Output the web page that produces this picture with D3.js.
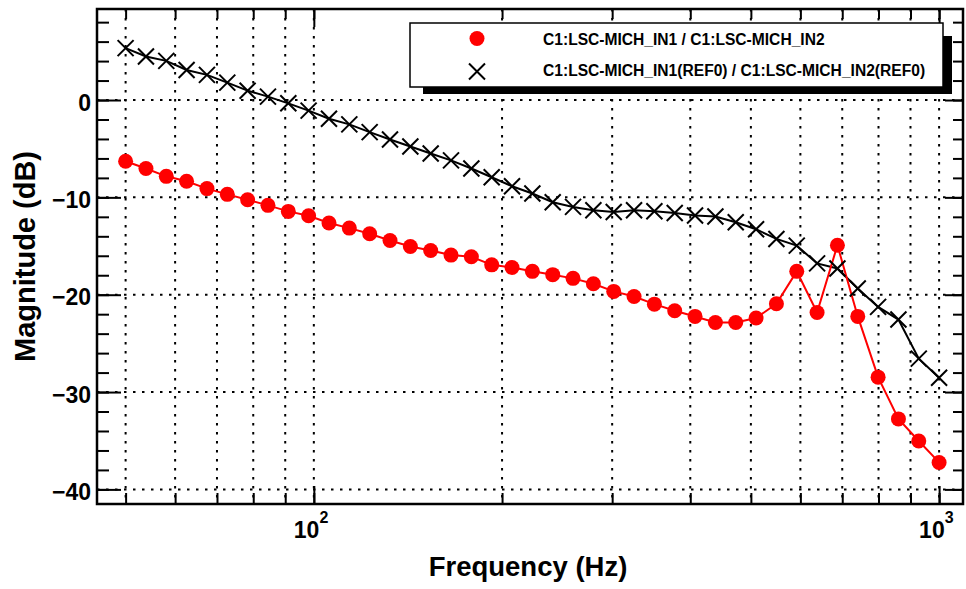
<!DOCTYPE html>
<html><head><meta charset="utf-8">
<script src="https://cdn.jsdelivr.net/npm/d3@7"></script>
<style>
body{margin:0;background:#fff}
svg{display:block}
text{font-family:"Liberation Sans",Arial,Helvetica,sans-serif;font-weight:bold;fill:#000}
</style>
</head><body>
<svg id="c" width="966" height="589"></svg>
<script>
// ---- data ----
const frequency = [50,53.89,58.08,62.59,67.46,72.71,78.36,84.46,91.03,98.10,105.74,113.96,122.83,132.38,142.68,153.77,165.73,178.62,192.51,207.48,223.62,241.01,259.75,279.95,301.72,325.18,350.47,377.73,407.10,438.76,472.88,509.66,549.30,592.02,638.06,687.68,741.16,798.80,860.93,927.88,1000];
const magnitudeNow = [-6.29,-7.04,-7.84,-8.35,-9.10,-9.69,-10.24,-10.82,-11.44,-11.89,-12.64,-13.16,-13.74,-14.43,-15.05,-15.46,-15.93,-16.10,-16.93,-17.20,-17.60,-17.94,-18.32,-18.87,-19.66,-20.18,-20.97,-21.65,-22.23,-22.85,-22.85,-22.40,-20.93,-17.60,-21.83,-14.92,-22.23,-28.47,-32.76,-35.03,-37.23];
const magnitudeRef = [5.33,4.47,4.02,3.09,2.58,1.79,0.96,0.35,-0.34,-1.09,-1.92,-2.50,-3.30,-4.05,-4.77,-5.50,-6.20,-7.04,-7.93,-8.86,-9.60,-10.50,-10.98,-11.33,-11.50,-11.33,-11.43,-11.60,-11.87,-11.96,-12.55,-13.27,-14.27,-14.96,-16.78,-17.30,-19.36,-21.25,-22.55,-26.57,-28.53];
const seriesNames = ["C1:LSC-MICH_IN1 / C1:LSC-MICH_IN2","C1:LSC-MICH_IN1(REF0) / C1:LSC-MICH_IN2(REF0)"];
const xTicks = [50,60,70,80,90,100,200,300,400,500,600,700,800,900,1000];
const xMajorTicks = [100,1000];
const xMajorLabels = [["10","2"],["10","3"]];
const yMajorTicks = [-40,-30,-20,-10,0];
const yMinorTicks = [-40,-38,-36,-34,-32,-30,-28,-26,-24,-22,-20,-18,-16,-14,-12,-10,-8,-6,-4,-2,0,2,4,6,8];
const xTitle = "Frequency (Hz)";
const yTitle = "Magnitude (dB)";

// ---- layout ----
const L=97, R=963, T=9, B=504;
const svg = d3.select("#c");
const x = d3.scaleLog().domain([45,1092]).range([L,R]);
const y = d3.scaleLinear().domain([-41.5,9.35]).range([B,T]);

// grid
const grid = svg.append("g").attr("stroke","#000").attr("stroke-width",2).attr("stroke-dasharray","2.5,6.5");
grid.selectAll("line.v").data(xTicks).join("line").attr("class","v")
  .attr("x1",d=>x(d)).attr("x2",d=>x(d)).attr("y1",T).attr("y2",B);
grid.selectAll("line.h").data(yMajorTicks).join("line").attr("class","h")
  .attr("x1",L).attr("x2",R).attr("y1",d=>y(d)).attr("y2",d=>y(d));

function styleAxis(g){
  g.select(".domain").remove();
  g.selectAll(".tick line").attr("stroke","#000").attr("stroke-width",2);
}
// bottom axis
svg.append("g").attr("transform",`translate(0,${B})`)
  .call(d3.axisBottom(x).tickValues(xTicks).tickSize(-11).tickFormat("")).call(styleAxis);
svg.append("g").attr("transform",`translate(0,${B})`)
  .call(d3.axisBottom(x).tickValues(xMajorTicks).tickSize(-18).tickFormat("")).call(styleAxis);
// top axis
svg.append("g").attr("transform",`translate(0,${T})`)
  .call(d3.axisTop(x).tickValues(xTicks).tickSize(-10).tickFormat("")).call(styleAxis);
svg.append("g").attr("transform",`translate(0,${T})`)
  .call(d3.axisTop(x).tickValues(xMajorTicks).tickSize(-18).tickFormat("")).call(styleAxis);
// left axis
svg.append("g").attr("transform",`translate(${L},0)`)
  .call(d3.axisLeft(y).tickValues(yMinorTicks).tickSize(-12).tickFormat("")).call(styleAxis);
const yl = svg.append("g").attr("transform",`translate(${L},0)`)
  .call(d3.axisLeft(y).tickValues(yMajorTicks).tickSize(-24).tickPadding(6).tickFormat(d3.format("d"))).call(styleAxis);
yl.selectAll("text").attr("font-size",23).attr("dy","0.44em")
  .style("font-family",'"Liberation Sans",Arial,sans-serif').style("font-weight","bold");
// right axis
svg.append("g").attr("transform",`translate(${R},0)`)
  .call(d3.axisRight(y).tickValues(yMinorTicks).tickSize(-10).tickFormat("")).call(styleAxis);
svg.append("g").attr("transform",`translate(${R},0)`)
  .call(d3.axisRight(y).tickValues(yMajorTicks).tickSize(-18).tickFormat("")).call(styleAxis);

// x tick labels with superscripts
xMajorTicks.forEach((t,i)=>{
  const tx = svg.append("text").attr("x",x(t)-20).attr("y",538).attr("font-size",23);
  tx.append("tspan").text(xMajorLabels[i][0]);
  tx.append("tspan").attr("dy",-15).attr("font-size",16).text(xMajorLabels[i][1]);
});

// frame
svg.append("rect").attr("x",L).attr("y",T).attr("width",R-L).attr("height",B-T)
  .attr("fill","none").attr("stroke","#000").attr("stroke-width",2.5);

// series
const line = d3.line().x((d,i)=>x(frequency[i])).y(d=>y(d));
svg.append("path").datum(magnitudeRef).attr("d",line).attr("fill","none").attr("stroke","#000").attr("stroke-width",2);
svg.append("path").datum(magnitudeNow).attr("d",line).attr("fill","none").attr("stroke","#ff0000").attr("stroke-width",2);
svg.append("g").selectAll("path").data(magnitudeRef).join("path")
  .attr("transform",(d,i)=>`translate(${x(frequency[i])},${y(d)})`)
  .attr("d","M-8,-8L8,8M-8,8L8,-8").attr("stroke","#000").attr("stroke-width",2).attr("fill","none");
svg.append("g").selectAll("circle").data(magnitudeNow).join("circle")
  .attr("cx",(d,i)=>x(frequency[i])).attr("cy",d=>y(d)).attr("r",7.5).attr("fill","#ff0000");

// legend
const lg = svg.append("g");
lg.append("rect").attr("x",423).attr("y",36).attr("width",529).attr("height",58).attr("fill","#000");
lg.append("rect").attr("x",410).attr("y",23).attr("width",533).attr("height",64).attr("fill","#fff").attr("stroke","#000").attr("stroke-width",1.5);
lg.append("circle").attr("cx",477).attr("cy",38.5).attr("r",7.5).attr("fill","#ff0000");
lg.append("path").attr("transform","translate(477,71.5)").attr("d","M-8,-8L8,8M-8,8L8,-8").attr("stroke","#000").attr("stroke-width",2);
lg.append("text").attr("x",543).attr("y",44.5).attr("font-size",15.6).text(seriesNames[0]);
lg.append("text").attr("x",543).attr("y",75.5).attr("font-size",15.6).text(seriesNames[1]);

// titles
svg.append("text").attr("x",(L+R)/2-2).attr("y",576).attr("text-anchor","middle").attr("font-size",27.5).text(xTitle);
svg.append("text").attr("transform",`translate(35,${(T+B)/2}) rotate(-90)`).attr("text-anchor","middle").attr("font-size",29).text(yTitle);
</script>
</body></html>
